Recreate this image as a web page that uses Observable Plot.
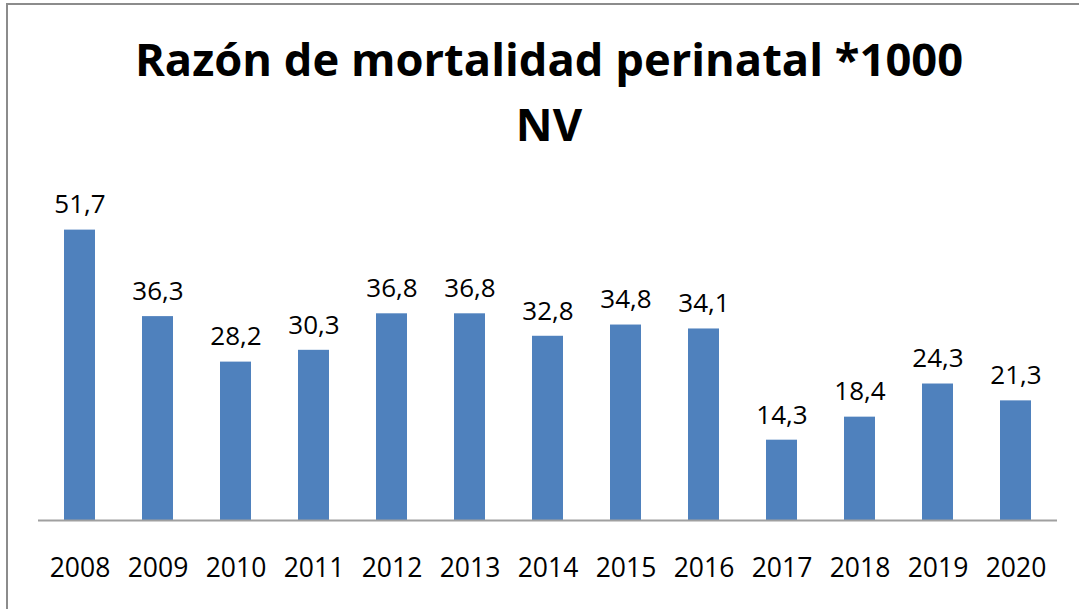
<!DOCTYPE html>
<html>
<head>
<meta charset="utf-8">
<script src="https://cdn.jsdelivr.net/npm/d3@7"></script>
<script src="https://cdn.jsdelivr.net/npm/@observablehq/plot@0.6"></script>
<style>
  html, body { margin: 0; padding: 0; background: #fff; }
  #wrap { position: relative; width: 1079px; height: 609px; overflow: hidden; background: #fff; }
  #frame { position: absolute; left: 6px; top: 3px; width: 1200px; height: 800px;
           border-left: 2px solid #8c8c8c; border-top: 2px solid #8c8c8c; }
  #title { position: absolute; left: 0; width: 1098px; top: 26px; text-align: center;
           font-family: "Open Sans", sans-serif; font-weight: 700; font-size: 45.3px; color: #000; }
  #title div { line-height: 65px; white-space: nowrap; }
  #chart { position: absolute; left: 0; top: 0; }
</style>
</head>
<body>
<div id="wrap">
  <div id="frame"></div>
  <div id="chart"></div>
  <div id="title"><div>Razón de mortalidad perinatal *1000</div><div>NV</div></div>
</div>
<script>
const years = ["2008","2009","2010","2011","2012","2013","2014","2015","2016","2017","2018","2019","2020"];
const values = [51.7, 36.3, 28.2, 30.3, 36.8, 36.8, 32.8, 34.8, 34.1, 14.3, 18.4, 24.3, 21.3];

const data = years.map((year, i) => ({year, value: values[i]}));
const fmt = v => v.toFixed(1).replace(".", ",");

const chart = Plot.plot({
  width: 1079,
  height: 609,
  marginLeft: 38,
  marginRight: 22,
  marginTop: 183,
  marginBottom: 89,
  style: {background: "transparent", fontFamily: "'Open Sans', sans-serif", overflow: "visible", color: "#000"},
  x: {domain: years, paddingInner: 0.6, paddingOuter: 0.32, label: null},
  y: {domain: [0, 60], axis: null},
  marks: [
    Plot.barY(data, {x: "year", y: "value", fill: "#4f81bd"}),
    Plot.ruleY([0], {stroke: "#a0a0a0", strokeWidth: 2}),
    Plot.text(data, {x: "year", y: "value", text: d => fmt(d.value), dy: -25, lineAnchor: "middle", fontSize: 26, fill: "#000"}),
    Plot.axisX({tickSize: 0, tickPadding: 38, fontSize: 26.5, fill: "#000", label: null})
  ]
});
document.getElementById("chart").appendChild(chart);
</script>
</body>
</html>
